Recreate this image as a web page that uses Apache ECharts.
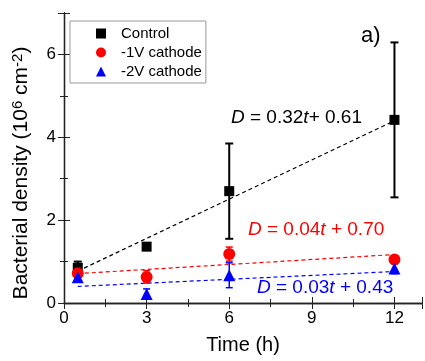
<!DOCTYPE html>
<html>
<head>
<meta charset="utf-8">
<script src="https://cdn.jsdelivr.net/npm/echarts@6/dist/echarts.min.js"></script>
<style>
  html, body { margin: 0; padding: 0; background: #fff; }
  #chart { width: 425px; height: 361px; }
</style>
</head>
<body>
<div id="chart"></div>
<script>
// sampling times (h)
const times = [0.5, 3, 6, 12];

// bacterial density, 10^6 cm^-2 (mean and error)
const controlMean = [0.85, 1.36, 2.70, 4.42];
const controlErr = [0.15, 0.06, 1.15, 1.87];
const cathode1Mean = [0.72, 0.63, 1.18, 1.05];
const cathode1Err = [0.10, 0.15, 0.17, 0.05];
const cathode2Mean = [0.62, 0.22, 0.67, 0.83];
const cathode2Err = [0.10, 0.12, 0.30, 0.12];

// linear fit end points
const fitT = [0.5, 12];
const controlFit = [0.77, 4.40];
const cathode1Fit = [0.71, 1.17];
const cathode2Fit = [0.40, 0.76];

const seriesNames = ['Control', '-1V cathode', '-2V cathode'];
const xTicks = ['0', '3', '6', '9', '12'];
const yTicks = ['0', '2', '4', '6'];

const FONT = 'Liberation Sans, Arial, sans-serif';

const chart = echarts.init(document.getElementById('chart'));

function pairs(xs, ys) {
  return xs.map((x, i) => [x, ys[i]]);
}

function errorBars(mean, err, color, width, cap) {
  return {
    type: 'custom',
    silent: true,
    z: 3,
    data: times.map((t, i) => [t, mean[i] - err[i], mean[i] + err[i]]),
    renderItem: (params, api) => {
      const lo = api.coord([api.value(0), api.value(1)]);
      const hi = api.coord([api.value(0), api.value(2)]);
      const style = { stroke: color, lineWidth: width };
      return {
        type: 'group',
        children: [
          { type: 'line', shape: { x1: lo[0], y1: lo[1], x2: hi[0], y2: hi[1] }, style },
          { type: 'line', shape: { x1: lo[0] - cap, y1: lo[1], x2: lo[0] + cap, y2: lo[1] }, style },
          { type: 'line', shape: { x1: hi[0] - cap, y1: hi[1], x2: hi[0] + cap, y2: hi[1] }, style },
        ],
      };
    },
  };
}

function fitLine(values, color) {
  return {
    type: 'line',
    data: pairs(fitT, values),
    symbol: 'none',
    silent: true,
    z: 1,
    lineStyle: { color, width: 1.2, type: [4, 3] },
  };
}

function annotation(x, y, parts, color) {
  const base = { fontSize: 19, fontFamily: FONT, fill: color };
  return {
    type: 'text',
    x,
    y,
    z: 10,
    style: {
      text: parts,
      ...base,
      verticalAlign: 'middle',
      rich: {
        i: { ...base, fontStyle: 'italic' },
        n: { ...base },
      },
    },
  };
}

const axisLine = { lineStyle: { color: '#222', width: 1.3 } };
const tick = { inside: true, length: 6, lineStyle: { color: '#222' } };
const minor = { show: true, splitNumber: 2, length: 4, lineStyle: { color: '#222' } };

const option = {
  animation: false,
  grid: { left: 64, top: 13, right: -2, bottom: 58 },
  legend: {
    data: [
      { name: seriesNames[0], icon: 'rect' },
      { name: seriesNames[1], icon: 'circle' },
      { name: seriesNames[2], icon: 'triangle' },
    ],
    orient: 'vertical',
    left: 70,
    top: 21,
    padding: [5, 4, 4, 26],
    itemWidth: 10,
    itemHeight: 10,
    itemGap: 4,
    borderColor: '#999',
    borderWidth: 1,
    textStyle: { fontSize: 15, fontFamily: FONT, color: '#000', padding: [0, 0, 0, 10] },
  },
  graphic: [
    annotation(231, 118, '{i|D}{n| = 0.32}{i|t}{n|+ 0.61}', '#000'),
    annotation(248, 230, '{i|D}{n| = 0.04}{i|t}{n| + 0.70}', '#ff0000'),
    annotation(257, 288, '{i|D}{n| = 0.03}{i|t}{n| + 0.43}', '#0000ff'),
    {
      type: 'text',
      x: 361,
      y: 36,
      style: { text: 'a)', fontSize: 22, fontFamily: FONT, fill: '#000', verticalAlign: 'middle' },
    },
  ],
  xAxis: [
    {
      type: 'value',
      min: 0,
      max: 13,
      interval: 3,
      name: 'Time (h)',
      nameLocation: 'middle',
      nameGap: 32,
      nameTextStyle: { fontSize: 20, fontFamily: FONT, color: '#000' },
      axisLine,
      axisTick: tick,
      minorTick: minor,
      axisLabel: {
        fontSize: 17,
        fontFamily: FONT,
        color: '#000',
        margin: 7,
        formatter: (v) => (xTicks.includes(String(v)) ? String(v) : ''),
      },
      splitLine: { show: false },
    },
    {
      type: 'value',
      position: 'top',
      min: 0,
      max: 13,
      interval: 3,
      axisLine,
      axisTick: tick,
      minorTick: minor,
      axisLabel: { show: false },
      splitLine: { show: false },
    },
  ],
  yAxis: [
    {
      type: 'value',
      min: 0,
      max: 7,
      interval: 2,
      name: 'Bacterial density (10{sup|6} cm{sup|-2})',
      nameLocation: 'middle',
      nameGap: 31,
      nameTextStyle: {
        fontSize: 21,
        fontFamily: FONT,
        color: '#000',
        padding: [0, 30, 0, 0],
        rich: {
          sup: { fontSize: 15, fontFamily: FONT, color: '#000', verticalAlign: 'top', padding: [0, 0, 8, 0] },
        },
      },
      axisLine: { show: true, ...axisLine },
      axisTick: tick,
      minorTick: minor,
      axisLabel: {
        fontSize: 17,
        fontFamily: FONT,
        color: '#000',
        margin: 8,
        formatter: (v) => (yTicks.includes(String(v)) ? String(v) : ''),
      },
      splitLine: { show: false },
    },
    {
      type: 'value',
      position: 'right',
      min: 0,
      max: 7,
      interval: 2,
      axisLine: { show: true, ...axisLine },
      axisTick: tick,
      minorTick: minor,
      axisLabel: { show: false },
      splitLine: { show: false },
    },
  ],
  series: [
    fitLine(controlFit, '#000'),
    fitLine(cathode1Fit, '#ff0000'),
    fitLine(cathode2Fit, '#0000ff'),
    errorBars(controlMean, controlErr, '#000', 2, 4),
    errorBars(cathode1Mean, cathode1Err, '#ff0000', 1.5, 3.5),
    errorBars(cathode2Mean, cathode2Err, '#0000ff', 1.5, 3.5),
    {
      name: seriesNames[0],
      type: 'scatter',
      symbol: 'rect',
      symbolSize: 10,
      z: 4,
      itemStyle: { color: '#000', opacity: 1 },
      data: pairs(times, controlMean),
    },
    {
      name: seriesNames[1],
      type: 'scatter',
      symbol: 'circle',
      symbolSize: 12,
      z: 5,
      itemStyle: { color: '#ff0000', opacity: 1 },
      data: pairs(times, cathode1Mean),
    },
    {
      name: seriesNames[2],
      type: 'scatter',
      symbol: 'triangle',
      symbolSize: 12,
      z: 6,
      itemStyle: { color: '#0000ff', opacity: 1 },
      data: pairs(times, cathode2Mean),
    },
  ],
};

chart.setOption(option);

window.addEventListener('resize', () => chart.resize());
</script>
</body>
</html>
